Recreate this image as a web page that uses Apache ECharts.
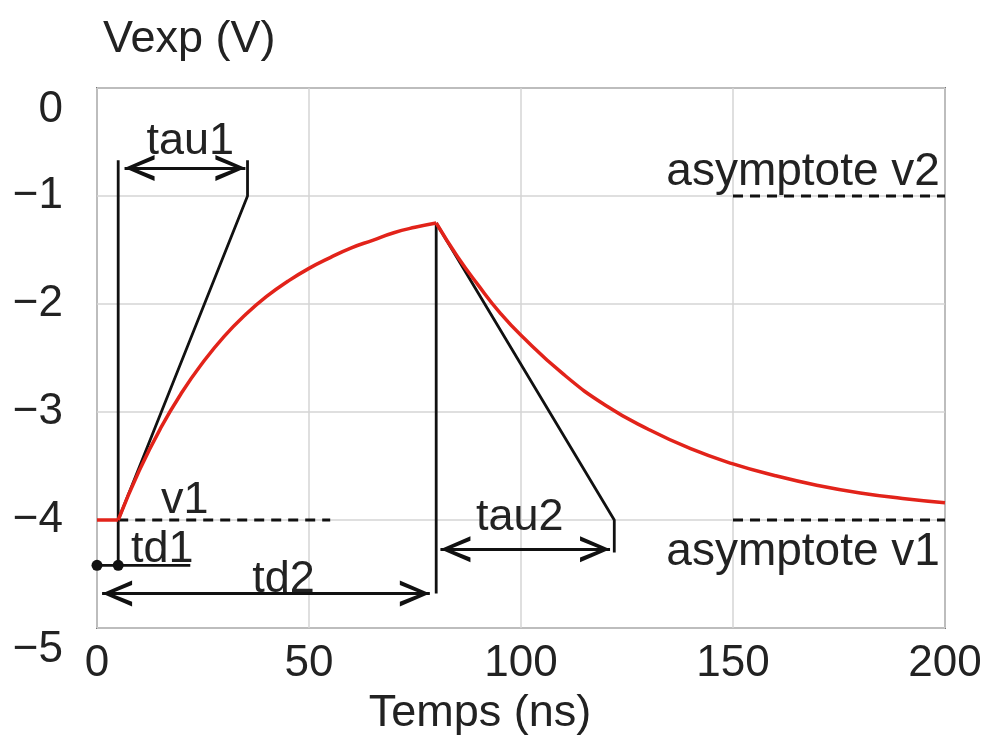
<!DOCTYPE html>
<html>
<head>
<meta charset="utf-8">
<script src="https://cdn.jsdelivr.net/npm/echarts@6/dist/echarts.min.js"></script>
<style>html,body{margin:0;background:#fff}#main{width:989px;height:743px}</style>
</head>
<body>
<div id="main"></div>
<script>
// courbe rouge
const tFlat = [0, 5];
const vFlat = [-4, -4];
const tRise = [5, 10, 15, 20, 25, 30, 35, 40, 45, 50, 55, 60, 65, 70, 75, 80];
const vRise = [-4, -3.54, -3.15, -2.82, -2.54, -2.30, -2.10, -1.93, -1.79, -1.67, -1.57, -1.48, -1.41, -1.34, -1.29, -1.25];
const tFall = [80, 85, 90, 95, 100, 110, 120, 130, 140, 150, 160, 170, 180, 190, 200];
const vFall = [-1.25, -1.56, -1.83, -2.08, -2.29, -2.65, -2.94, -3.16, -3.34, -3.48, -3.59, -3.68, -3.75, -3.80, -3.84];
const xTicks = [0, 50, 100, 150, 200];
const yTicks = [0, -1, -2, -3, -4, -5];

// constructions en noir (coordonnées dans le repère du graphe)
const tangent1 = [[5, -4], [35.5, -1], [35.5, -0.67]];
const vert1 = [[5, -4.42], [5, -0.67]];
const vert2 = [[80, -1.25], [80, -4.68]];
const tangent2 = [[80, -1.25], [122, -4], [122, -4.3]];
const td1Line = [[0, -4.42], [22, -4.42]];
const td1Dots = [[0, -4.42], [5, -4.42]];
const v1Dash = [[5, -4], [55, -4]];
const asym1 = [[150, -4], [200, -4]];
const asym2 = [[150, -1], [200, -1]];
const arrowsTau1 = [[6.5, -0.74], [35, -0.74]];
const arrowsTd2 = [[1.2, -4.68], [78.5, -4.68]];
const arrowsTau2 = [[81, -4.27], [121, -4.27]];
const textsCenter = [
    {name: 'tau1', value: [22, -0.5]},
    {name: 'v1', value: [20.7, -3.82]},
    {name: 'td1', value: [15.4, -4.27]},
    {name: 'td2', value: [44, -4.55]},
    {name: 'tau2', value: [99.7, -3.98]}
];
const textsRight = [
    {name: 'asymptote v2', value: [198.8, -0.78]},
    {name: 'asymptote v1', value: [198.8, -4.3]}
];

const FONT = 'Liberation Sans, Arial, sans-serif';
const TXT = '#222';
const BLACK = '#111';
const RED = '#e2231a';
const chevron = 'path://M14,0L28,30L23,30L14,9L5,30L0,30Z';

function blackLine(data, dashed) {
    return {
        type: 'line', data: data, symbol: 'none', silent: true,
        lineStyle: {color: BLACK, width: dashed ? 3 : 2.8, type: dashed ? [10, 7] : 'solid'},
        z: 3
    };
}
function redLine(t, v) {
    return {
        type: 'line', data: t.map((x, i) => [x, v[i]]), symbol: 'none', silent: true,
        smooth: true,
        lineStyle: {color: RED, width: 3.5}, z: 4
    };
}
function arrow(pts) {
    return [{coord: pts[0]}, {coord: pts[1]}];
}

let chart = echarts.init(document.getElementById('main'));
const option = {
    animation: false,
    grid: {left: 97, right: 44, top: 88, bottom: 115, show: true, borderColor: '#777', borderWidth: 2},
    xAxis: {
        type: 'value', min: 0, max: 200, interval: 50,
        name: 'Temps (ns)', nameLocation: 'middle', nameGap: 60,
        nameTextStyle: {fontFamily: FONT, fontSize: 45, color: TXT, padding: [0, 82, 0, 0]},
        axisLine: {show: false},
        axisTick: {show: false},
        axisLabel: {fontFamily: FONT, fontSize: 44, color: TXT, margin: 14, customValues: xTicks},
        splitLine: {lineStyle: {color: '#d4d4d4', width: 1.5}}
    },
    yAxis: {
        type: 'value', min: -5, max: 0, interval: 1,
        name: 'Vexp (V)', nameLocation: 'end', nameGap: 26,
        nameTextStyle: {fontFamily: FONT, fontSize: 45, color: TXT, align: 'left', padding: [0, 0, 0, 6]},
        axisLine: {show: false},
        axisTick: {show: false},
        axisLabel: {
            fontFamily: FONT, fontSize: 44, color: TXT, margin: 34, customValues: yTicks,
            verticalAlignMinLabel: 'top', verticalAlignMaxLabel: 'top',
            formatter: function (v) { return v < 0 ? '\u2212' + Math.abs(v) : String(v); }
        },
        splitLine: {lineStyle: {color: '#d4d4d4', width: 1.5}}
    },
    series: [
        redLine(tFlat, vFlat), redLine(tRise, vRise), redLine(tFall, vFall),
        blackLine(tangent1), blackLine(vert1), blackLine(vert2), blackLine(tangent2),
        blackLine(td1Line), blackLine(v1Dash, true), blackLine(asym1, true), blackLine(asym2, true),
        {
            type: 'scatter', data: td1Dots, symbolSize: 11, itemStyle: {color: BLACK, opacity: 1}, z: 5, silent: true
        },
        {
            type: 'line', data: [], silent: true,
            markLine: {
                silent: true, symbol: [chevron, chevron], symbolSize: [26, 30],
                symbolOffset: [[0, 15], [0, 15]],
                label: {show: false},
                lineStyle: {color: BLACK, width: 3, type: 'solid'},
                data: [arrow(arrowsTau1), arrow(arrowsTd2), arrow(arrowsTau2)]
            }
        },
        {
            type: 'scatter', data: textsCenter, symbolSize: 0, silent: true, z: 6,
            itemStyle: {opacity: 1},
            label: {show: true, position: 'inside', formatter: '{b}', fontFamily: FONT, fontSize: 45, color: TXT, opacity: 1}
        },
        {
            type: 'scatter', data: textsRight, symbolSize: 0, silent: true, z: 6,
            itemStyle: {opacity: 1},
            label: {show: true, position: 'left', distance: 0, formatter: '{b}', fontFamily: FONT, fontSize: 46, color: TXT, opacity: 1}
        }
    ]
};
chart.setOption(option);
</script>
</body>
</html>
